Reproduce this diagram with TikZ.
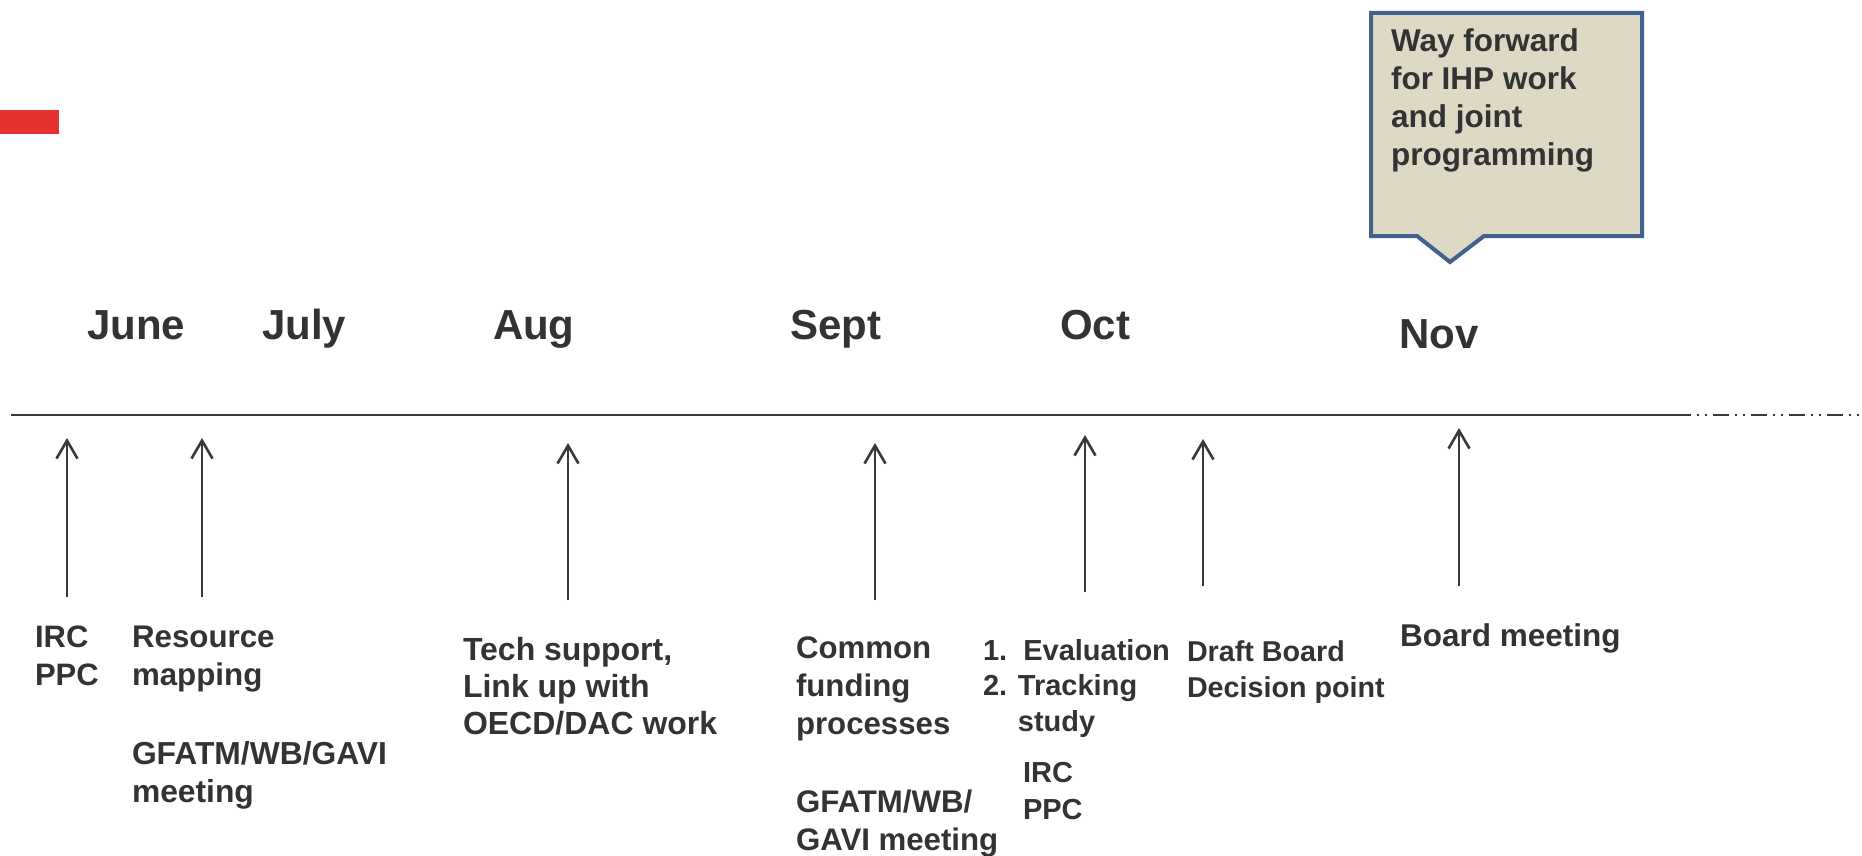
\documentclass[tikz,border=0pt]{standalone}
\usepackage{fontspec}
\setmainfont{Liberation Sans}
\usetikzlibrary{arrows.meta}
\definecolor{txt}{HTML}{333333}
\definecolor{lineclr}{HTML}{383838}
\definecolor{redbar}{HTML}{E53230}
\definecolor{calfill}{HTML}{DDD9C4}
\definecolor{caledge}{HTML}{41618E}
\tikzset{
  lbl/.style={anchor=base west, inner sep=0pt, outer sep=0pt, align=left, text=txt},
  fs/.style 2 args={font=\fontsize{#1}{#2}\selectfont\bfseries},
  month/.style={lbl, fs={42}{50}},
  evarrow/.style={draw=lineclr, line width=2.6pt, -{Straight Barb[length=18pt,width=21pt]}},
  tline/.style={draw=lineclr, line width=2.4pt},
  callout/.style={draw=caledge, fill=calfill, line width=4pt, line join=miter},
}
\begin{document}
\begin{tikzpicture}[x=1pt,y=-1pt]
\useasboundingbox (0,0) rectangle (1862,856);

% red bar
\fill[redbar] (0,110) rectangle (59,134);

% callout (anchor = baseline of last line)
\draw[callout] (1371,13) -- (1642,13) -- (1642,236) -- (1484,236) -- (1450,262) -- (1417,236) -- (1371,236) -- cycle;
\node[lbl, fs={31.5}{38}] (way) at (1391,165) {Way forward\\for IHP work\\and joint\\programming};

% months
\node[month] (june) at (87,339) {June};
\node[month] (july) at (262,339) {July};
\node[month] (aug) at (493,339) {Aug};
\node[month] (sept) at (790,339) {Sept};
\node[month] (oct) at (1060,339) {Oct};
\node[month] (nov) at (1399,348) {Nov};

% time line
\coordinate (l0) at (11,415);
\coordinate (l1) at (1675,415);
\coordinate (l2) at (1862,415);
\draw[tline] (l0) -- (l1);
\draw[tline, dash pattern=on 16pt off 6pt on 2pt off 6pt on 2pt off 6pt] (l1) -- (l2);

% arrows
\coordinate (a1b) at (67,597);   \coordinate (a1t) at (67,438);
\coordinate (a2b) at (202,597);  \coordinate (a2t) at (202,438);
\coordinate (a3b) at (568,600);  \coordinate (a3t) at (568,443);
\coordinate (a4b) at (875,600);  \coordinate (a4t) at (875,443);
\coordinate (a5b) at (1085,592); \coordinate (a5t) at (1085,435);
\coordinate (a6b) at (1203,586); \coordinate (a6t) at (1203,439);
\coordinate (a7b) at (1459,586); \coordinate (a7t) at (1459,428);
\foreach \i in {1,...,7} {\draw[evarrow] (a\i b) -- (a\i t);}

% labels (anchor = baseline of last line)
\node[lbl, fs={31}{38}] (irc1) at (35,685) {IRC\\PPC};
\node[lbl, fs={31.3}{38}] (res) at (132,685) {Resource\\mapping};
\node[lbl, fs={31.8}{38}] (gf1) at (132,802) {GFATM/WB/GAVI\\meeting};
\node[lbl, fs={32}{37}] (tech) at (463,734) {Tech support,\\Link up with\\OECD/DAC work};
\node[lbl, fs={31.2}{38}] (common) at (796,734) {Common\\funding\\processes};
\node[lbl, fs={31.2}{38}] (gf2) at (796,850) {GFATM/WB/\\GAVI meeting};
\node[lbl, fs={29}{35.5}] (eval) at (983,731) {1.\ \ Evaluation\\2. Tracking\\\phantom{2. }study};
\node[lbl, fs={29}{37}] (irc2) at (1023,819) {IRC\\PPC};
\node[lbl, fs={28.7}{36}] (draft) at (1187,697) {Draft Board\\Decision point};
\node[lbl, fs={31.5}{37}] (board) at (1400,646) {Board meeting};
\end{tikzpicture}
\end{document}
